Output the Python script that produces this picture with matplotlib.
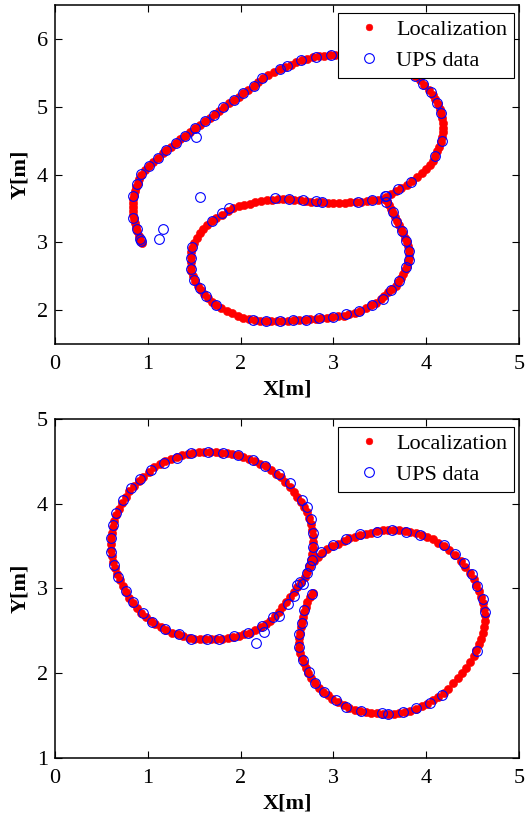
import matplotlib
matplotlib.use("Agg")
import matplotlib.pyplot as plt

plt.rcParams["font.family"] = ["Liberation Serif", "DejaVu Serif"]

# ---------------------------------------------------------------------------
# Top run: localization track (red) and UPS fixes (blue)
# ---------------------------------------------------------------------------
top_loc_x = [
    0.94, 0.92, 0.90, 0.88, 0.87, 0.86, 0.85, 0.84, 0.84, 0.84, 0.84, 0.84, 0.85, 0.86, 0.87, 0.89, 0.91, 0.93,
    0.97, 1.01, 1.06, 1.11, 1.16, 1.20, 1.25, 1.30, 1.35, 1.40, 1.45, 1.51, 1.56, 1.62, 1.67, 1.72, 1.77, 1.82,
    1.88, 1.93, 1.98, 2.03, 2.08, 2.14, 2.19, 2.24, 2.30, 2.36, 2.42, 2.48, 2.54, 2.60, 2.66, 2.72, 2.78, 2.84,
    2.90, 2.96, 3.02, 3.08, 3.14, 3.20, 3.26, 3.32, 3.38, 3.44, 3.50, 3.56, 3.62, 3.68, 3.73, 3.78, 3.83, 3.88,
    3.93, 3.98, 4.03, 4.07, 4.10, 4.13, 4.15, 4.16, 4.17, 4.18, 4.18, 4.18, 4.17, 4.16, 4.14, 4.12, 4.10, 4.07,
    4.04, 4.00, 3.95, 3.90, 3.85, 3.79, 3.73, 3.67, 3.62, 3.57,
    3.58, 3.60, 3.62, 3.64, 3.66, 3.68, 3.71, 3.73, 3.75, 3.77, 3.79, 3.80, 3.81, 3.81, 3.81, 3.80, 3.79, 3.77,
    3.75, 3.73, 3.70, 3.67, 3.63, 3.59, 3.55, 3.51, 3.46, 3.41, 3.35, 3.29, 3.23, 3.17, 3.11, 3.05, 2.99, 2.93,
    2.87, 2.81, 2.75, 2.69, 2.63, 2.57, 2.51, 2.45, 2.39, 2.33, 2.27, 2.21, 2.15,
    2.09, 2.03, 1.97, 1.91, 1.85, 1.79, 1.74, 1.69, 1.65, 1.61, 1.57, 1.54, 1.51, 1.49, 1.47, 1.46, 1.46, 1.46,
    1.47, 1.48, 1.50, 1.53, 1.56, 1.60, 1.64, 1.69, 1.74, 1.80, 1.86, 1.92, 1.98, 2.04, 2.10, 2.16, 2.22, 2.28,
    2.34, 2.40, 2.46, 2.52, 2.58, 2.64, 2.70, 2.76, 2.82, 2.88, 2.94, 3.00, 3.06, 3.12, 3.18, 3.24, 3.30, 3.36,
    3.42, 3.48, 3.54,
]
top_loc_y = [
    2.99, 3.04, 3.10, 3.16, 3.22, 3.28, 3.34, 3.40, 3.46, 3.52, 3.58, 3.64, 3.70, 3.76, 3.82, 3.88, 3.94, 4.00,
    4.07, 4.13, 4.19, 4.25, 4.31, 4.36, 4.41, 4.46, 4.52, 4.57, 4.62, 4.68, 4.73, 4.79, 4.84, 4.89, 4.94, 5.00,
    5.05, 5.10, 5.15, 5.20, 5.25, 5.31, 5.37, 5.42, 5.47, 5.51, 5.55, 5.59, 5.62, 5.66, 5.69, 5.71, 5.73, 5.745,
    5.755, 5.76, 5.765, 5.77, 5.78, 5.78, 5.78, 5.77, 5.76, 5.75, 5.73, 5.71, 5.68, 5.64, 5.60, 5.55, 5.50, 5.45,
    5.39, 5.32, 5.25, 5.18, 5.11, 5.04, 4.97, 4.90, 4.83, 4.76, 4.69, 4.62, 4.55, 4.48, 4.41, 4.34, 4.27, 4.20,
    4.14, 4.08, 4.02, 3.96, 3.90, 3.85, 3.80, 3.75, 3.71, 3.67,
    3.61, 3.55, 3.49, 3.43, 3.37, 3.31, 3.25, 3.19, 3.13, 3.07, 3.01, 2.95, 2.89, 2.83, 2.77, 2.71, 2.65, 2.59,
    2.53, 2.47, 2.41, 2.36, 2.31, 2.26, 2.21, 2.16, 2.11, 2.07, 2.03, 1.99, 1.96, 1.94, 1.92, 1.91, 1.90, 1.89,
    1.88, 1.87, 1.865, 1.86, 1.855, 1.85, 1.845, 1.84, 1.84, 1.84, 1.84, 1.845, 1.855,
    1.87, 1.89, 1.92, 1.95, 1.99, 2.03, 2.07, 2.12, 2.18, 2.24, 2.30, 2.36, 2.43, 2.50, 2.57, 2.64, 2.71, 2.78,
    2.85, 2.92, 2.99, 3.06, 3.13, 3.19, 3.25, 3.31, 3.36, 3.41, 3.46, 3.50, 3.53, 3.55, 3.57, 3.59, 3.61, 3.62,
    3.63, 3.635, 3.64, 3.635, 3.63, 3.62, 3.61, 3.60, 3.595, 3.59, 3.585, 3.58, 3.58, 3.585, 3.59, 3.595, 3.60, 3.61,
    3.62, 3.63, 3.64,
]

top_ups_x = [
    0.93, 0.92, 0.88, 0.84, 0.84, 0.88, 0.93, 1.12, 1.16, 1.56, 1.52,
    1.01, 1.11, 1.20, 1.30, 1.40, 1.51, 1.62, 1.71, 1.81, 1.93, 2.03, 2.14, 2.23, 2.42, 2.50, 2.65, 2.81, 2.97,
    3.88, 3.96, 4.05, 4.12, 4.16, 4.17, 4.10, 3.84, 3.70, 3.57,
    2.37, 2.52, 2.67, 2.81, 2.88, 3.26, 3.42, 3.56, 3.57, 1.69, 1.80, 1.87,
    3.64, 3.67, 3.74, 3.78, 3.81, 3.81, 3.78, 3.71, 3.62, 3.53, 3.42, 3.28, 3.14, 3.00, 2.85, 2.70, 2.56, 2.42,
    2.27, 2.13, 1.73, 1.63, 1.56, 1.50, 1.46, 1.46, 1.48,
]
top_ups_y = [
    3.02, 3.05, 3.20, 3.36, 3.69, 3.86, 4.01, 3.05, 3.20, 3.67, 4.56,
    4.13, 4.25, 4.36, 4.46, 4.57, 4.68, 4.79, 4.88, 4.99, 5.10, 5.20, 5.31, 5.42, 5.55, 5.60, 5.69, 5.74, 5.76,
    5.46, 5.33, 5.21, 5.06, 4.91, 4.50, 4.27, 3.89, 3.78, 3.69,
    3.66, 3.64, 3.63, 3.61, 3.59, 3.59, 3.63, 3.68, 3.59, 3.32, 3.43, 3.51,
    3.45, 3.30, 3.16, 3.02, 2.87, 2.74, 2.64, 2.43, 2.30, 2.17, 2.07, 1.99, 1.94, 1.90, 1.88, 1.86, 1.85, 1.84,
    1.84, 1.86, 2.07, 2.21, 2.33, 2.45, 2.61, 2.77, 2.93,
]

# ---------------------------------------------------------------------------
# Bottom run: two loops
# ---------------------------------------------------------------------------
bot_loc_x = [
    2.27, 2.22, 2.16, 2.10, 2.04, 1.98, 1.92, 1.86, 1.80, 1.74, 1.68, 1.62, 1.56, 1.50, 1.44, 1.38, 1.32, 1.26,
    1.20, 1.14, 1.08, 1.03, 0.98, 0.93, 0.88, 0.84, 0.80, 0.76, 0.73, 0.70, 0.67, 0.65, 0.63, 0.61, 0.60, 0.60,
    0.60, 0.61, 0.62, 0.64, 0.66, 0.69, 0.72, 0.76, 0.80, 0.85, 0.90, 0.95, 1.01, 1.07, 1.13, 1.19, 1.25, 1.31,
    1.37, 1.43, 1.49, 1.55, 1.61, 1.67, 1.73, 1.79, 1.85, 1.91, 1.97, 2.03, 2.09, 2.15, 2.21, 2.27, 2.33, 2.38,
    2.43, 2.48, 2.53, 2.57, 2.61, 2.65, 2.68, 2.71, 2.74, 2.76, 2.77, 2.78, 2.78, 2.78, 2.77, 2.76, 2.74, 2.72,
    2.69, 2.65, 2.61, 2.57, 2.53, 2.49, 2.45, 2.41, 2.37, 2.32,
    2.78, 2.75, 2.72, 2.70, 2.68, 2.67, 2.66, 2.65, 2.64, 2.63, 2.63, 2.63, 2.64, 2.66, 2.68, 2.70, 2.73, 2.76,
    2.80, 2.84, 2.89, 2.94, 2.99, 3.05, 3.11, 3.17, 3.23, 3.29, 3.35, 3.41, 3.47, 3.53, 3.59, 3.65, 3.71, 3.77,
    3.83, 3.89, 3.95, 4.01, 4.07, 4.13, 4.19, 4.24, 4.29, 4.34, 4.39, 4.43, 4.47, 4.51, 4.54, 4.57, 4.59, 4.61,
    4.62, 4.63, 4.63, 4.62, 4.61, 4.59, 4.57, 4.54, 4.51, 4.47, 4.42, 4.37, 4.31, 4.25, 4.19, 4.13, 4.07, 4.01,
    3.95, 3.89, 3.83, 3.77, 3.71, 3.65, 3.59, 3.53, 3.47, 3.41, 3.35, 3.29, 3.23, 3.17, 3.11, 3.05, 2.99, 2.93,
    2.88, 2.83, 2.79, 2.75,
]
bot_loc_y = [
    2.58, 2.54, 2.51, 2.48, 2.46, 2.44, 2.43, 2.42, 2.41, 2.40, 2.40, 2.40, 2.405, 2.41, 2.42, 2.44, 2.46, 2.48,
    2.51, 2.54, 2.58, 2.62, 2.66, 2.71, 2.77, 2.83, 2.89, 2.96, 3.03, 3.10, 3.17, 3.24, 3.31, 3.38, 3.45, 3.52,
    3.59, 3.66, 3.73, 3.80, 3.87, 3.94, 4.01, 4.08, 4.15, 4.21, 4.27, 4.32, 4.38, 4.43, 4.47, 4.50, 4.53, 4.55,
    4.57, 4.59, 4.60, 4.61, 4.615, 4.615, 4.61, 4.60, 4.595, 4.585, 4.57, 4.55, 4.53, 4.50, 4.47, 4.44, 4.40, 4.35,
    4.31, 4.26, 4.20, 4.14, 4.08, 4.02, 3.96, 3.90, 3.83, 3.76, 3.69, 3.62, 3.55, 3.48, 3.41, 3.34, 3.27, 3.20,
    3.14, 3.08, 3.02, 2.96, 2.90, 2.84, 2.78, 2.72, 2.67, 2.62,
    2.95, 2.90, 2.84, 2.78, 2.72, 2.66, 2.60, 2.54, 2.48, 2.42, 2.36, 2.30, 2.24, 2.18, 2.12, 2.06, 2.00, 1.94,
    1.88, 1.83, 1.78, 1.74, 1.70, 1.66, 1.62, 1.59, 1.57, 1.555, 1.545, 1.535, 1.53, 1.525, 1.52, 1.525, 1.53, 1.54,
    1.56, 1.58, 1.61, 1.64, 1.68, 1.72, 1.77, 1.82, 1.88, 1.94, 2.00, 2.06, 2.13, 2.20, 2.27, 2.34, 2.41, 2.48,
    2.55, 2.62, 2.69, 2.76, 2.83, 2.90, 2.97, 3.04, 3.11, 3.18, 3.25, 3.32, 3.39, 3.45, 3.50, 3.54, 3.58, 3.61,
    3.63, 3.65, 3.665, 3.675, 3.685, 3.69, 3.69, 3.685, 3.675, 3.66, 3.645, 3.63, 3.61, 3.59, 3.56, 3.53, 3.50, 3.46,
    3.42, 3.37, 3.32, 3.26,
]

bot_ups_x = [
    1.65, 1.47, 1.81, 1.97, 2.13, 2.26, 1.31, 1.17, 1.03, 0.92, 0.82, 0.73, 0.66, 0.62, 0.60, 0.60, 0.64, 0.68,
    0.76, 0.84, 0.95, 1.05, 1.19, 1.34, 1.47, 1.64, 1.77, 1.93, 2.08, 2.17, 2.23, 2.25,
    2.41, 2.53, 2.66, 2.71, 2.76, 2.78, 2.78, 2.77, 2.75, 2.72, 2.64, 2.61, 2.67, 2.57, 2.51, 2.41, 2.35,
    2.77, 2.87, 3.00, 3.14, 3.29, 3.47, 3.63, 3.78, 3.93, 4.19, 4.31, 4.41, 4.49, 4.55, 4.61, 4.63, 4.55,
    4.17, 4.04, 3.89, 3.75, 3.59, 3.52, 3.30, 3.14, 3.03, 2.90, 2.80, 2.74, 2.67, 2.63, 2.63, 2.66, 2.68,
]
bot_ups_y = [
    4.61, 4.60, 4.60, 4.575, 4.52, 4.45, 4.535, 4.48, 4.40, 4.29, 4.18, 4.04, 3.89, 3.75, 3.60, 3.43, 3.28, 3.13,
    2.97, 2.84, 2.71, 2.61, 2.52, 2.46, 2.41, 2.41, 2.40, 2.44, 2.48, 2.36, 2.555, 2.49,
    4.35, 4.24, 4.04, 3.96, 3.815, 3.65, 3.49, 3.34, 3.26, 3.18, 3.08, 3.04, 3.05, 2.91, 2.82, 2.68, 2.665,
    2.94, 3.43, 3.51, 3.58, 3.64, 3.67, 3.69, 3.67, 3.63, 3.51, 3.41, 3.30, 3.17, 3.03, 2.88, 2.72, 2.26,
    1.74, 1.65, 1.595, 1.54, 1.52, 1.53, 1.555, 1.60, 1.69, 1.78, 1.885, 2.02, 2.155, 2.31, 2.46, 2.59, 2.75,
]

PANELS = [
    # (loc_x, loc_y, ups_x, ups_y, ylim, yticks, axes rect)
    (top_loc_x, top_loc_y, top_ups_x, top_ups_y, (1.5, 6.5), [2, 3, 4, 5, 6],
     [0.1048, 0.581, 0.8838, 0.4129]),
    (bot_loc_x, bot_loc_y, bot_ups_x, bot_ups_y, (1, 5), [1, 2, 3, 4, 5],
     [0.1048, 0.0767, 0.8838, 0.4130]),
]

fig = plt.figure(figsize=(5.25, 8.21), dpi=100)

for loc_x, loc_y, ups_x, ups_y, ylim, yticks, rect in PANELS:
    ax = fig.add_axes(rect)
    ax.plot(loc_x, loc_y, linestyle="none", marker="o", markersize=5.9,
            markerfacecolor="red", markeredgecolor="red", markeredgewidth=0.4,
            label="Localization")
    ax.plot(ups_x, ups_y, linestyle="none", marker="o", markersize=7.0,
            markerfacecolor="none", markeredgecolor="blue", markeredgewidth=0.8,
            label="UPS data")
    ax.set_xlim(0, 5)
    ax.set_ylim(*ylim)
    ax.set_xticks([0, 1, 2, 3, 4, 5])
    ax.set_yticks(yticks)
    ax.tick_params(direction="in", top=True, right=True, length=5, width=0.8,
                   labelsize=16)
    ax.tick_params(axis="x", pad=8)
    ax.tick_params(axis="y", pad=5)
    for sp in ax.spines.values():
        sp.set_linewidth(1.1)
    ax.set_xlabel("X[m]", fontsize=16, fontweight="bold", labelpad=4)
    ax.set_ylabel("Y[m]", fontsize=16, fontweight="bold", labelpad=5)

    # legend box anchored ~5 px from the right edge, ~8 px below the top
    leg = ax.legend(loc="upper right", bbox_to_anchor=(0.989, 0.977),
                    borderaxespad=0, fontsize=16, frameon=True, fancybox=False,
                    framealpha=1, edgecolor="black", handletextpad=0.15,
                    borderpad=0.3, labelspacing=0.47, handlelength=2.15)
    leg.get_frame().set_linewidth(0.8)
    leg.legend_handles[0].set_markersize(4.8)

fig.savefig("out.png", dpi=100)
